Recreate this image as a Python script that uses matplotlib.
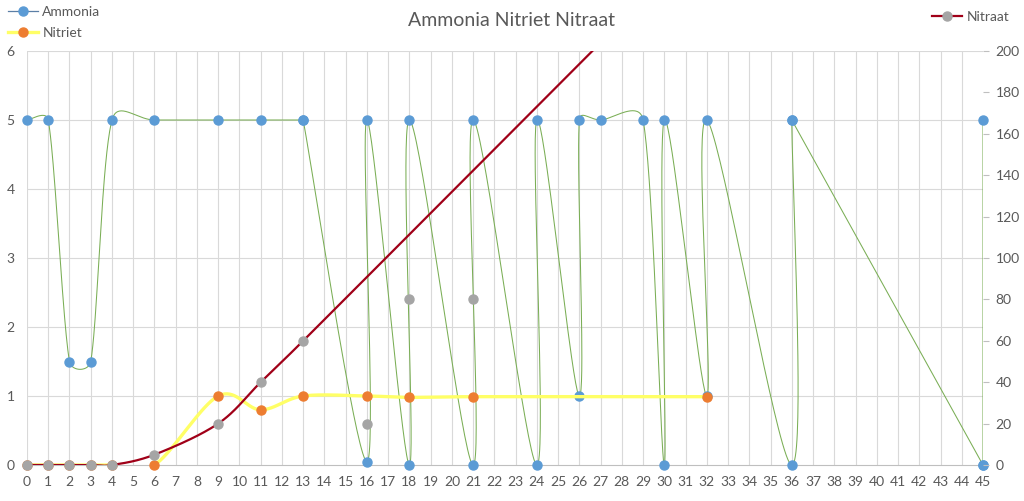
import numpy as np
import matplotlib
matplotlib.use('Agg')
import matplotlib.pyplot as plt
from matplotlib.lines import Line2D

plt.rcParams['font.family'] = ['Lato', 'DejaVu Sans']

# data (some days have repeated readings)
amm_x = [0, 1, 2, 3, 4, 6, 9, 11, 13, 13, 16, 16, 18, 18, 21, 21, 24, 24, 26, 26, 27, 29,
         30, 30, 32, 32, 36, 36, 36, 45, 45, 45]
amm_y = [5, 5, 1.5, 1.5, 5, 5, 5, 5, 5, 5, 0.05, 5, 0, 5, 0, 5, 0, 5, 1, 5, 5, 5,
         0, 5, 1, 5, 0, 5, 5, 0, 0, 5]

nitriet_x = [0, 1, 2, 3, 4, 6, 9, 11, 13, 16, 18, 21, 32]
nitriet_y = [0, 0, 0, 0, 0, 0, 1, 0.8, 1, 1, 0.98, 0.99, 0.99]

nitraat_x = [0, 1, 2, 3, 4, 6, 9, 11, 13, 16, 18, 21]
nitraat_y = [0, 0, 0, 0, 0, 5, 20, 40, 60, 20, 80, 80]
# red line runs on past the top of the chart
nitraat_line_x = [0, 1, 2, 3, 4, 6, 9, 11, 13, 27]
nitraat_line_y = [0, 0, 0, 0, 0, 5, 20, 40, 60, 204]

gray_txt = '#595959'
grid_c = '#D9D9D9'


def smooth(ax, xs, ys, n=40):
    # excel-like bezier smoothing, done in pixel space
    pts = ax.transData.transform(np.column_stack([xs, ys]).astype(float))
    m = len(pts)
    out = [pts[0]]
    t = np.linspace(0, 1, n)[1:, None]
    for i in range(m - 1):
        p0 = pts[max(i - 1, 0)]
        p1 = pts[i]
        p2 = pts[i + 1]
        p3 = pts[min(i + 2, m - 1)]
        seg = np.hypot(*(p2 - p1))
        if seg == 0:
            continue
        a = (p2 - p0) / 6.0
        b = (p3 - p1) / 6.0
        la, lb = np.hypot(*a), np.hypot(*b)
        if la > 0.5 * seg:
            a = a * 0.5 * seg / la
        if lb > 0.5 * seg:
            b = b * 0.5 * seg / lb
        c1 = p1 + a
        c2 = p2 - b
        cur = (1 - t) ** 3 * p1 + 3 * (1 - t) ** 2 * t * c1 + 3 * (1 - t) * t ** 2 * c2 + t ** 3 * p2
        out.extend(cur)
    return ax.transData.inverted().transform(np.array(out))


fig = plt.figure(figsize=(10.24, 5.01), dpi=100)
ax = fig.add_axes([27 / 1024, 1 - 465 / 501, (983 - 27) / 1024, (465 - 51) / 501])
ax.set_xlim(0, 45)
ax.set_ylim(0, 6)
ax2 = ax.twinx()
ax2.set_ylim(0, 200)

ax.set_xticks(range(0, 46))
ax.set_yticks(range(0, 7))
ax2.set_yticks(range(0, 201, 20))
ax.grid(True, color=grid_c, lw=0.8)
ax.set_axisbelow(True)
ax.get_xgridlines()[-1].set_visible(False)
ax.get_ygridlines()[0].set_visible(False)

for s in ['left', 'right', 'top']:
    ax.spines[s].set_visible(False)
    ax2.spines[s].set_visible(False)
ax.spines['bottom'].set_color('#BFBFBF')
ax2.spines['bottom'].set_visible(False)

ax.tick_params(axis='x', length=0, pad=8, labelsize=10, labelcolor=gray_txt)
ax.tick_params(axis='y', length=0, pad=9, labelsize=10, labelcolor=gray_txt)
ax2.tick_params(axis='y', length=4, color='#BFBFBF', pad=5, labelsize=10, labelcolor=gray_txt)

amm_line = smooth(ax, amm_x, amm_y)
ax.plot(amm_line[:, 0], amm_line[:, 1], color='#7AAE55', lw=0.75, zorder=2)
ax.plot(amm_x, amm_y, 'o', color='#5B9BD5', ms=6.5, zorder=3, clip_on=False)

nit_line = smooth(ax, nitriet_x, nitriet_y)
ax.plot(nit_line[:, 0], nit_line[:, 1], color='#FFFF66', lw=2.4, zorder=4, solid_capstyle='round')
ax.plot(nitriet_x, nitriet_y, 'o', color='#ED7D31', ms=6.5, zorder=5, clip_on=False)

nra_line = smooth(ax2, nitraat_line_x, nitraat_line_y)
ax2.plot(nra_line[:, 0], nra_line[:, 1], color='#A00018', lw=1.6, zorder=4)
ax2.plot(nitraat_x, nitraat_y, 'o', color='#A5A5A5', ms=6.5, zorder=5, clip_on=False)

fig.text(0.5, 1 - 20 / 501, 'Ammonia Nitriet Nitraat', ha='center', va='center',
         fontsize=14, color=gray_txt)

h_amm = Line2D([], [], color='#5B7FA6', lw=0.9, marker='o', ms=6.5,
               mfc='#5B9BD5', mec='#5B9BD5')
h_nit = Line2D([], [], color='#FFFF66', lw=2.4, marker='o', ms=6.5,
               mfc='#ED7D31', mec='#ED7D31')
h_nra = Line2D([], [], color='#A00018', lw=1.6, marker='o', ms=6.5,
               mfc='#A5A5A5', mec='#A5A5A5')
leg1 = fig.legend([h_amm, h_nit], ['Ammonia', 'Nitriet'], loc='upper left',
                  bbox_to_anchor=(0.002, 1.0), frameon=False, fontsize=10,
                  handlelength=2.2, handletextpad=0.3, labelspacing=0.7,
                  borderaxespad=0.0)
for t in leg1.get_texts():
    t.set_color(gray_txt)
leg2 = fig.legend([h_nra], ['Nitraat'], loc='upper right',
                  bbox_to_anchor=(0.991, 0.989), frameon=False, fontsize=10,
                  handlelength=2.2, handletextpad=0.3, borderaxespad=0.0)
for t in leg2.get_texts():
    t.set_color(gray_txt)

fig.savefig('out.png', dpi=100)
